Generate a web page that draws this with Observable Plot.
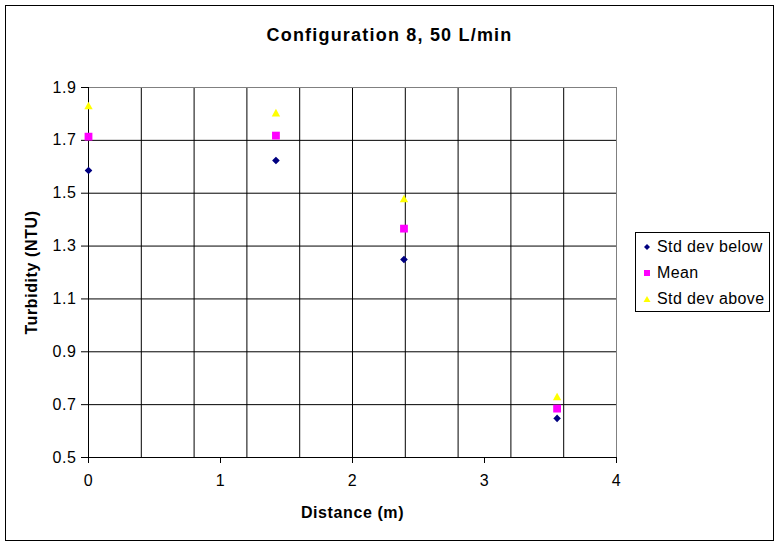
<!DOCTYPE html>
<html>
<head>
<meta charset="utf-8">
<script src="https://cdn.jsdelivr.net/npm/d3@7"></script>
<script src="https://cdn.jsdelivr.net/npm/@observablehq/plot@0.6"></script>
<style>
  body { margin: 0; background: white; }
  #wrap { position: relative; width: 782px; height: 549px; font-family: 'Liberation Sans', Arial, sans-serif; }
  #border { position: absolute; left: 5px; top: 5px; width: 769px; height: 536px; box-sizing: border-box; border: 1px solid black; pointer-events: none; }
  #legend { position: absolute; left: 635px; top: 232px; width: 135px; height: 80px; box-sizing: border-box; border: 1px solid black; background: white; }
  .row { position: absolute; left: 0; height: 20px; font-size: 16px; letter-spacing: 0.4px; line-height: 20px; white-space: nowrap; }
  .row svg { position: absolute; left: 6px; top: 5px; }
  .row span { position: absolute; left: 21px; top: 0; }
  #chart svg text { letter-spacing: 0.6px; }
</style>
</head>
<body>
<div id="wrap">
  <div id="chart"></div>
  <div id="legend"></div>
  <div id="border"></div>
</div>
<script>
const title = "Configuration 8, 50 L/min";
const xLabel = "Distance (m)";
const yLabel = "Turbidity (NTU)";
const seriesNames = ["Std dev below", "Mean", "Std dev above"];
const seriesColors = ["#000080", "#FF00FF", "#FFFF00"];

const distance = [0, 1.42, 2.39, 3.55];
const stdBelow = [1.586, 1.624, 1.249, 0.648];
const meanVals = [1.714, 1.718, 1.366, 0.685];
const stdAbove = [1.832, 1.805, 1.480, 0.731];

const xTicks = [0, 1, 2, 3, 4];
const xGrid = [0.4, 0.8, 1.2, 1.6, 2.0, 2.4, 2.8, 3.2, 3.6];
const yTicks = [0.5, 0.7, 0.9, 1.1, 1.3, 1.5, 1.7, 1.9];
const yGrid = [0.7, 0.9, 1.1, 1.3, 1.5, 1.7];

// Excel-like marker shapes (drawn relative to the point, via Plot's symbol channel)
const excelDiamond = { draw(ctx, size) { const s = Math.sqrt(size) * 0.55;
  ctx.moveTo(0, -s); ctx.lineTo(s * 0.75, -s * 0.25); ctx.lineTo(s, 0); ctx.lineTo(s * 0.75, s * 0.25);
  ctx.lineTo(0, s); ctx.lineTo(-s * 0.75, s * 0.25); ctx.lineTo(-s, 0); ctx.lineTo(-s * 0.75, -s * 0.25); ctx.closePath(); } };
const excelSquare = { draw(ctx, size) { const s = Math.sqrt(size) / 2; ctx.rect(-s, -s, 2 * s, 2 * s); } };
const excelTriangle = { draw(ctx, size) { const s = Math.sqrt(size) / 2;
  ctx.moveTo(0, -s); ctx.lineTo(s * 1.1, s); ctx.lineTo(-s * 1.1, s); ctx.closePath(); } };
const seriesSymbols = [excelDiamond, excelSquare, excelTriangle];

const seriesValues = [stdBelow, meanVals, stdAbove];
const sizes = [3.9, 4.4, 4.3];

const dotMarks = seriesValues.map((vals, i) =>
  Plot.dot(distance.map((d, j) => ({x: d, y: vals[j]})), {
    x: "x", y: "y", symbol: seriesSymbols[i], fill: seriesColors[i], r: sizes[i], stroke: "none"
  })
);

const chart = Plot.plot({
  width: 782,
  height: 549,
  marginLeft: 88,
  marginRight: 166,
  marginTop: 87,
  marginBottom: 92,
  style: { fontFamily: "'Liberation Sans', Arial, sans-serif", fontSize: "16px", background: "white", color: "black", overflow: "visible" },
  x: { domain: [0, 4] },
  y: { domain: [0.5, 1.9] },
  marks: [
    Plot.ruleX(xGrid, { stroke: "black", strokeWidth: 1 }),
    Plot.ruleY(yGrid, { stroke: "black", strokeWidth: 1 }),
    Plot.ruleY([1.9], { stroke: "#808080" }),
    Plot.ruleX([4], { stroke: "#808080" }),
    Plot.ruleX([0], { stroke: "black" }),
    Plot.ruleY([0.5], { stroke: "black" }),
    Plot.axisX({ ticks: xTicks, tickSize: 6, tickPadding: 11, tickFormat: d3.format("d"), label: null, fontSize: 16 }),
    Plot.axisY({ ticks: yTicks, tickSize: 7, tickPadding: 5, tickFormat: d3.format(".1f"), label: null, fontSize: 16 }),
    ...dotMarks,
    Plot.text([title], { text: d => d, frameAnchor: "top-left", dx: 301, dy: -52, fontSize: 18, fontWeight: "bold", textAnchor: "middle", lineAnchor: "middle" }),
    Plot.text([xLabel], { text: d => d, frameAnchor: "bottom", dy: 55, fontSize: 16, fontWeight: "bold", lineAnchor: "middle" }),
    Plot.text([yLabel], { text: d => d, frameAnchor: "left", dx: -57, rotate: -90, fontSize: 16, fontWeight: "bold", lineAnchor: "middle", textAnchor: "middle" })
  ]
});
document.getElementById("chart").appendChild(chart);
d3.select(chart).selectAll("text").filter(function () { return this.textContent === title; }).style("letter-spacing", "1.2px");

// legend
const legend = document.getElementById("legend");
const symPaths = [
  "M5,2 L6.5,3.5 L8,5 L6.5,6.5 L5,8 L3.5,6.5 L2,5 L3.5,3.5 Z",
  "M2,2 H8 V8 H2 Z",
  "M5,2 L8.5,8 H1.5 Z"
];
seriesNames.forEach((name, i) => {
  const row = document.createElement("div");
  row.className = "row";
  row.style.top = (4 + i * 26) + "px";
  row.innerHTML = `<svg width="10" height="10" viewBox="0 0 10 10"><path d="${symPaths[i]}" fill="${seriesColors[i]}"/></svg><span>${name}</span>`;
  legend.appendChild(row);
});
</script>
</body>
</html>
